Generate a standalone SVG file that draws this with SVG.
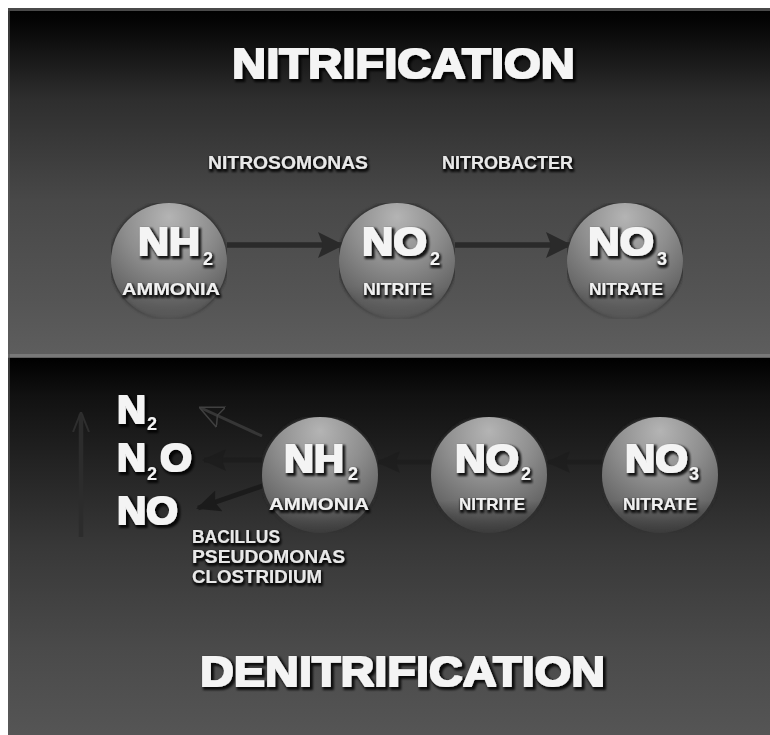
<svg xmlns="http://www.w3.org/2000/svg" width="770" height="735" viewBox="0 0 770 735">
  <defs>
    <linearGradient id="bgTop" x1="0" y1="0" x2="0" y2="1">
      <stop offset="0" stop-color="#000000"/>
      <stop offset="0.04" stop-color="#050505"/>
      <stop offset="0.26" stop-color="#2e2e2e"/>
      <stop offset="0.55" stop-color="#484848"/>
      <stop offset="0.84" stop-color="#555555"/>
      <stop offset="1" stop-color="#5e5e5e"/>
    </linearGradient>
    <linearGradient id="bgBot" x1="0" y1="0" x2="0" y2="1">
      <stop offset="0" stop-color="#000000"/>
      <stop offset="0.1" stop-color="#111111"/>
      <stop offset="0.27" stop-color="#222222"/>
      <stop offset="0.5" stop-color="#383838"/>
      <stop offset="0.77" stop-color="#4a4a4a"/>
      <stop offset="1" stop-color="#555555"/>
    </linearGradient>
    <radialGradient id="sphere" cx="0.5" cy="0.2" r="0.85" fx="0.5" fy="0.12">
      <stop offset="0" stop-color="#b4b4b4"/>
      <stop offset="0.45" stop-color="#8e8e8e"/>
      <stop offset="0.8" stop-color="#686868"/>
      <stop offset="1" stop-color="#4e4e4e"/>
    </radialGradient>
    <linearGradient id="fadeGrad" x1="0" y1="0" x2="0" y2="1">
      <stop offset="0" stop-color="#ffffff"/>
      <stop offset="0.72" stop-color="#ffffff"/>
      <stop offset="1" stop-color="#ffffff" stop-opacity="0.25"/>
    </linearGradient>
    <mask id="fade" maskContentUnits="objectBoundingBox">
      <rect x="0" y="0" width="1" height="1" fill="url(#fadeGrad)"/>
    </mask>
    <filter id="heavy" x="-20%" y="-40%" width="140%" height="180%">
      <feMorphology in="SourceGraphic" operator="dilate" radius="0.6" result="thick"/>
      <feMorphology in="SourceAlpha" operator="dilate" radius="1.6" result="outl"/>
      <feOffset in="outl" dx="1.5" dy="2" result="off"/>
      <feGaussianBlur in="off" stdDeviation="1" result="blur"/>
      <feFlood flood-color="#000000" flood-opacity="0.85"/>
      <feComposite in2="blur" operator="in" result="shadow"/>
      <feMerge>
        <feMergeNode in="shadow"/>
        <feMergeNode in="thick"/>
      </feMerge>
    </filter>
    <filter id="light" x="-20%" y="-40%" width="140%" height="180%">
      <feMorphology in="SourceGraphic" operator="dilate" radius="0.3" result="thick"/>
      <feMorphology in="SourceAlpha" operator="dilate" radius="1" result="outl"/>
      <feOffset in="outl" dx="1" dy="1.5" result="off"/>
      <feGaussianBlur in="off" stdDeviation="0.8" result="blur"/>
      <feFlood flood-color="#000000" flood-opacity="0.8"/>
      <feComposite in2="blur" operator="in" result="shadow"/>
      <feMerge>
        <feMergeNode in="shadow"/>
        <feMergeNode in="thick"/>
      </feMerge>
    </filter>
    <filter id="soft" x="-20%" y="-20%" width="140%" height="140%">
      <feGaussianBlur stdDeviation="1.2"/>
    </filter>
    <marker id="ahTop" markerUnits="userSpaceOnUse" markerWidth="26" markerHeight="28" refX="24" refY="14" orient="auto">
      <path d="M0,1 L26,14 L0,27 L5,14 Z" fill="#2a2a2a"/>
    </marker>
    <marker id="ahBot" markerUnits="userSpaceOnUse" markerWidth="24" markerHeight="24" refX="22" refY="12" orient="auto">
      <path d="M0,1 L24,12 L0,23 L4,12 Z" fill="#1a1a1a"/>
    </marker>
    <marker id="ahFaint" markerUnits="userSpaceOnUse" markerWidth="24" markerHeight="24" refX="22" refY="12" orient="auto">
      <path d="M0,1 L24,12 L0,23 L4,12 Z" fill="none" stroke="#404040" stroke-width="1.5"/>
    </marker>
    <marker id="ahVert" markerUnits="userSpaceOnUse" markerWidth="20" markerHeight="20" refX="18" refY="10" orient="auto">
      <path d="M0,2 L20,10 L0,18" fill="none" stroke="#2e2e2e" stroke-width="2"/>
    </marker>
  </defs>
  <style>
    .big { font-family: "Liberation Sans", Arial, sans-serif; font-weight: bold; fill: #f4f4f4; filter: url(#heavy); }
    .title { font-size: 42px; }
    .formula { font-size: 38px; }
    .sub { font-family: "Liberation Sans", Arial, sans-serif; font-weight: bold; fill: #f4f4f4; font-size: 18px; filter: url(#light); }
    .lbl { font-family: "Liberation Sans", Arial, sans-serif; font-weight: bold; fill: #f0f0f0; font-size: 17px; filter: url(#light); }
    .bact { font-family: "Liberation Sans", Arial, sans-serif; font-weight: bold; fill: #e8e8e8; font-size: 18px; filter: url(#light); }
    .ball { fill: url(#sphere); mask: url(#fade); }
    .rim { fill: none; stroke: #2e2e2e; stroke-width: 2.5; filter: url(#soft); mask: url(#fade); }
    .conTop { stroke: #2a2a2a; stroke-width: 5.5; fill: none; marker-end: url(#ahTop); }
    .conBot { stroke: #1a1a1a; stroke-width: 5; fill: none; marker-end: url(#ahBot); }
  </style>

  <!-- background -->
  <rect x="0" y="0" width="770" height="735" fill="#ffffff"/>
  <rect x="8" y="8" width="762" height="350" fill="url(#bgTop)"/>
  <rect x="8" y="8" width="762" height="3" fill="#4a4a4a"/>
  <rect x="8" y="354" width="762" height="3" fill="#787878"/>
  <rect x="8" y="358" width="762" height="377" fill="url(#bgBot)"/>
  <rect x="8" y="11" width="2" height="724" fill="#5a5a5a" opacity="0.6"/>

  <!-- titles -->
  <text class="big title" x="232" y="78" textLength="343" lengthAdjust="spacingAndGlyphs">NITRIFICATION</text>
  <text class="big title" x="200" y="686" textLength="405" lengthAdjust="spacingAndGlyphs">DENITRIFICATION</text>

  <!-- bacteria labels -->
  <text class="bact" x="208" y="169" textLength="160" lengthAdjust="spacingAndGlyphs">NITROSOMONAS</text>
  <text class="bact" x="442" y="169" textLength="131" lengthAdjust="spacingAndGlyphs">NITROBACTER</text>
  <text class="bact" x="192" y="543" textLength="88" lengthAdjust="spacingAndGlyphs">BACILLUS</text>
  <text class="bact" x="192" y="563" textLength="153" lengthAdjust="spacingAndGlyphs">PSEUDOMONAS</text>
  <text class="bact" x="192" y="583" textLength="130" lengthAdjust="spacingAndGlyphs">CLOSTRIDIUM</text>

  <!-- connectors -->
  <g id="connectors">
    <line class="conTop" x1="227" y1="245" x2="342" y2="245"/>
    <line class="conTop" x1="455" y1="245" x2="570" y2="245"/>
    <line class="conBot" x1="603" y1="462" x2="548" y2="462" opacity="0.5"/>
    <line class="conBot" x1="431" y1="462" x2="378" y2="462" opacity="0.5"/>
    <line class="conBot" x1="263" y1="460" x2="204" y2="460" opacity="0.6"/>
    <line class="conBot" x1="265" y1="485" x2="198" y2="508" opacity="0.9"/>
    <line x1="262" y1="436" x2="201" y2="408" stroke="#363636" stroke-width="3" marker-end="url(#ahFaint)"/>
    <line x1="81" y1="537" x2="81" y2="414" stroke="#2c2c2c" stroke-width="4.5" marker-end="url(#ahVert)"/>
  </g>

  <!-- top row nodes -->
  <g id="top-ammonia">
    <circle class="rim" cx="169" cy="261" r="58"/>
    <circle class="ball" cx="169" cy="261" r="58"/>
    <text class="big formula" x="138" y="255" textLength="62" lengthAdjust="spacingAndGlyphs">NH</text>
    <text class="sub" x="203" y="265">2</text>
    <text class="lbl" x="122" y="295" textLength="98" lengthAdjust="spacingAndGlyphs">AMMONIA</text>
  </g>
  <g id="top-nitrite">
    <circle class="rim" cx="397" cy="261" r="58"/>
    <circle class="ball" cx="397" cy="261" r="58"/>
    <text class="big formula" x="362" y="255" textLength="65" lengthAdjust="spacingAndGlyphs">NO</text>
    <text class="sub" x="430" y="265">2</text>
    <text class="lbl" x="363" y="295" textLength="69" lengthAdjust="spacingAndGlyphs">NITRITE</text>
  </g>
  <g id="top-nitrate">
    <circle class="rim" cx="625" cy="261" r="58"/>
    <circle class="ball" cx="625" cy="261" r="58"/>
    <text class="big formula" x="588" y="255" textLength="66" lengthAdjust="spacingAndGlyphs">NO</text>
    <text class="sub" x="657" y="265">3</text>
    <text class="lbl" x="589" y="295" textLength="74" lengthAdjust="spacingAndGlyphs">NITRATE</text>
  </g>

  <!-- bottom row nodes -->
  <g id="bottom-ammonia">
    <circle class="rim" cx="320" cy="475" r="58"/>
    <circle class="ball" cx="320" cy="475" r="58"/>
    <text class="big formula" x="284" y="472" textLength="60" lengthAdjust="spacingAndGlyphs">NH</text>
    <text class="sub" x="348" y="480">2</text>
    <text class="lbl" x="269" y="510" textLength="100" lengthAdjust="spacingAndGlyphs">AMMONIA</text>
  </g>
  <g id="bottom-nitrite">
    <circle class="rim" cx="489" cy="475" r="58"/>
    <circle class="ball" cx="489" cy="475" r="58"/>
    <text class="big formula" x="455" y="472" textLength="64" lengthAdjust="spacingAndGlyphs">NO</text>
    <text class="sub" x="521" y="480">2</text>
    <text class="lbl" x="459" y="510" textLength="66" lengthAdjust="spacingAndGlyphs">NITRITE</text>
  </g>
  <g id="bottom-nitrate">
    <circle class="rim" cx="660" cy="475" r="58"/>
    <circle class="ball" cx="660" cy="475" r="58"/>
    <text class="big formula" x="625" y="472" textLength="63" lengthAdjust="spacingAndGlyphs">NO</text>
    <text class="sub" x="689" y="480">3</text>
    <text class="lbl" x="623" y="510" textLength="74" lengthAdjust="spacingAndGlyphs">NITRATE</text>
  </g>

  <!-- products -->
  <g id="n2">
    <text class="big formula" x="117" y="423" textLength="29" lengthAdjust="spacingAndGlyphs">N</text>
    <text class="sub" x="147" y="430">2</text>
  </g>
  <g id="n2o">
    <text class="big formula" x="117" y="471" textLength="29" lengthAdjust="spacingAndGlyphs">N</text>
    <text class="sub" x="147" y="480">2</text>
    <text class="big formula" x="160" y="471" textLength="32" lengthAdjust="spacingAndGlyphs">O</text>
  </g>
  <g id="no">
    <text class="big formula" x="117" y="524" textLength="61" lengthAdjust="spacingAndGlyphs">NO</text>
  </g>
</svg>
